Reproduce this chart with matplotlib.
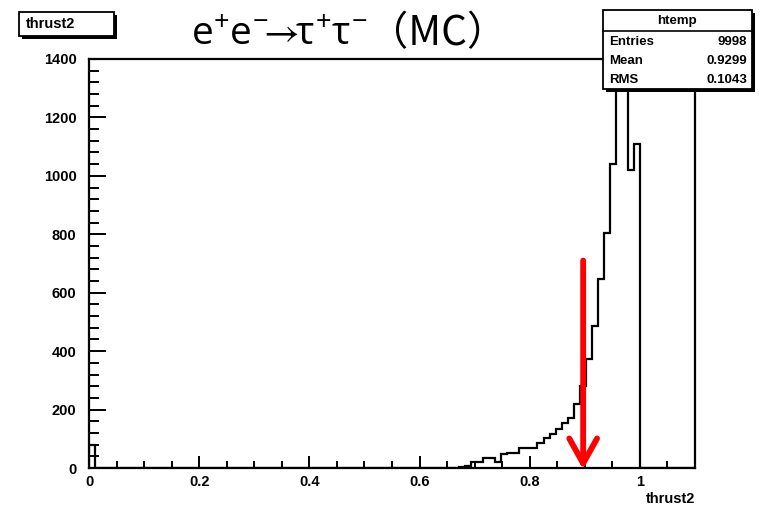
import numpy as np
import matplotlib.pyplot as plt
from matplotlib.patches import Rectangle
from matplotlib.ticker import MultipleLocator, FuncFormatter

plt.rcParams["mathtext.fontset"] = "custom"
plt.rcParams["mathtext.rm"] = "Open Sans"
plt.rcParams["mathtext.it"] = "Open Sans"
plt.rcParams["mathtext.fallback"] = "stixsans"

W, H = 765, 513

# htemp of thrust2: 100 bins on [0, 1.1]
bin_edges = np.linspace(0.0, 1.1, 101)
first_bin = [80]
empty_mid = [0] * 60
tail_counts = [5, 6, 22, 22, 33, 33, 22, 49, 53, 53,
               68, 68, 67, 84, 101, 118, 135, 155, 172, 220,
               282, 374, 487, 647, 804, 1040, 1310, 1330, 1020, 1108]
empty_end = [0] * 9
counts = first_bin + empty_mid + tail_counts + empty_end

stat_names = ["Entries", "Mean", "RMS"]
stat_values = ["9998", "0.9299", "0.1043"]

cut_x = 0.897
arrow_top = 710

title_process = r"e$^{+}$e$^{-}\!\!\rightarrow\!\!\tau^{+}\tau^{-}$"
title_tag = "（MC）"


def fx(x):
    return x / W


def fy(y):
    return 1 - y / H


def box(fig, x0, y0, x1, y1, shadow=3, lw=1.3, z=10):
    # ROOT style pave with shadow at right/bottom
    fig.add_artist(Rectangle((fx(x0 + shadow), fy(y1 + shadow)), fx(x1 - x0), (y1 - y0) / H,
                             transform=fig.transFigure, facecolor="black", edgecolor="black",
                             lw=0, zorder=z))
    fig.add_artist(Rectangle((fx(x0), fy(y1)), fx(x1 - x0), (y1 - y0) / H,
                             transform=fig.transFigure, facecolor="white", edgecolor="black",
                             lw=lw, zorder=z + 1))


fig = plt.figure(figsize=(W / 100, H / 100), dpi=100)
ax = fig.add_axes([fx(89), fy(468), fx(695 - 89), (468 - 59) / H])

ax.stairs(counts, bin_edges, color="black", lw=1.6)
ax.set_xlim(0, 1.1)
ax.set_ylim(0, 1400)

for s in ax.spines.values():
    s.set_linewidth(1.6)

ax.xaxis.set_major_locator(MultipleLocator(0.2))
ax.xaxis.set_minor_locator(MultipleLocator(0.05))
ax.yaxis.set_major_locator(MultipleLocator(200))
ax.yaxis.set_minor_locator(MultipleLocator(40))
ax.xaxis.set_major_formatter(FuncFormatter(lambda v, p: "%g" % round(v, 2)))
ax.yaxis.set_major_formatter(FuncFormatter(lambda v, p: "%d" % v))

ax.tick_params(axis="x", which="major", direction="in", length=9, width=1.4, pad=5)
ax.tick_params(axis="x", which="minor", direction="in", length=5, width=1.4)
ax.tick_params(axis="y", which="major", direction="in", length=12, width=1.4, pad=9)
ax.tick_params(axis="y", which="minor", direction="in", length=7, width=1.4)
for lab in ax.get_xticklabels() + ax.get_yticklabels():
    lab.set_fontweight("bold")
    lab.set_fontsize(10.5)
    lab.set_family("Liberation Sans")

fig.text(fx(695), fy(499), "thrust2", ha="right", va="center",
         fontsize=10.5, fontweight="bold", family="Liberation Sans")

# cut arrow
ax.annotate("", xy=(cut_x, -5), xytext=(cut_x, arrow_top),
            arrowprops=dict(arrowstyle="->,head_length=1.8,head_width=1.0",
                            color="#ff0000", lw=4.2, mutation_scale=10,
                            shrinkA=0, shrinkB=0),
            annotation_clip=False)

# histogram title pave
box(fig, 19, 12, 114, 36, shadow=3)
fig.text(fx(26), fy(24), "thrust2", ha="left", va="center", fontsize=10.5,
         fontweight="bold", family="Liberation Sans", zorder=20)

# statistics pave
box(fig, 603, 10, 752, 89, shadow=3)
fig.add_artist(plt.Line2D([fx(603), fx(752)], [fy(31), fy(31)], transform=fig.transFigure,
                          color="black", lw=1.2, zorder=15))
fig.text(fx(677), fy(21), "htemp", ha="center", va="center", fontsize=9.5,
         fontweight="bold", family="Liberation Sans", zorder=20)
for i, (n, v) in enumerate(zip(stat_names, stat_values)):
    yy = 42 + i * 19
    fig.text(fx(609), fy(yy), n, ha="left", va="center", fontsize=9.5,
             fontweight="bold", family="Liberation Sans", zorder=20)
    fig.text(fx(747), fy(yy), v, ha="right", va="center", fontsize=9.5,
             fontweight="bold", family="Liberation Sans", zorder=20)

# slide title: process part with real superscripts, then the full-width tag
fig.text(fx(368), fy(45), title_process, ha="right", va="baseline", fontsize=28,
         family="Open Sans")
fig.text(fx(368), fy(45), title_tag, ha="left", va="baseline", fontsize=29,
         family=["Noto Sans CJK SC", "DejaVu Sans"])

fig.savefig("out.png", dpi=100)
